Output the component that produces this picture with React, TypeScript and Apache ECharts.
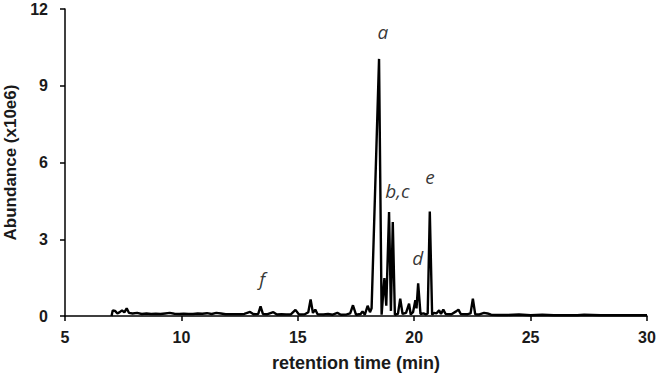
import React, { useEffect, useRef } from "react";
import * as echarts from "echarts";

const retentionTimes = [
  7.0, 7.05, 7.15, 7.25, 7.35, 7.45, 7.55, 7.65, 7.75, 7.9, 8.1, 8.3, 8.5, 8.7, 8.9, 9.1, 9.3, 9.5, 9.7, 9.9,
  10.1, 10.3, 10.5, 10.7, 10.9, 11.1, 11.3, 11.5, 11.7, 11.9, 12.1, 12.3, 12.5, 12.7, 12.95, 13.1, 13.3, 13.4,
  13.5, 13.7, 13.95, 14.1, 14.3, 14.5, 14.7, 14.9, 15.05, 15.3, 15.45, 15.55, 15.65, 15.75, 15.85, 16.1, 16.3,
  16.5, 16.7, 16.85, 17.1, 17.25, 17.37, 17.5, 17.7, 17.78, 17.88, 18.0, 18.1, 18.17, 18.49, 18.6, 18.72, 18.8,
  18.92, 19.0, 19.08, 19.17, 19.3, 19.4, 19.5, 19.65, 19.78, 19.85, 19.95, 20.05, 20.1, 20.17, 20.27, 20.4,
  20.5, 20.58, 20.67, 20.77, 20.85, 20.95, 21.07, 21.15, 21.25, 21.35, 21.6, 21.8, 21.9, 22.0, 22.3, 22.42,
  22.52, 22.62, 22.8, 23.0, 23.15, 23.3, 23.6, 24.0, 24.5, 25.0, 25.5, 26.0, 27.0, 27.3, 28.0, 29.0, 30.0,
];

const abundance = [
  0.0, 0.22, 0.2, 0.1, 0.15, 0.22, 0.14, 0.3, 0.12, 0.1, 0.12, 0.08, 0.1, 0.08, 0.09, 0.08, 0.1, 0.12, 0.09, 0.08,
  0.09, 0.08, 0.08, 0.1, 0.09, 0.11, 0.08, 0.12, 0.1, 0.07, 0.07, 0.07, 0.07, 0.08, 0.16, 0.07, 0.08, 0.38,
  0.08, 0.07, 0.15, 0.06, 0.07, 0.06, 0.06, 0.24, 0.06, 0.07, 0.15, 0.65, 0.12, 0.25, 0.07, 0.06, 0.08,
  0.05, 0.12, 0.05, 0.06, 0.1, 0.42, 0.05, 0.08, 0.18, 0.05, 0.4, 0.15, 0.3, 10.05, 0.05, 1.48, 0.4,
  4.06, 0.2, 3.67, 0.05, 0.08, 0.68, 0.08, 0.12, 0.48, 0.06, 0.15, 0.62, 0.3, 1.28, 0.08, 0.1,
  0.06, 0.1, 4.08, 0.05, 0.12, 0.1, 0.22, 0.08, 0.25, 0.08, 0.07, 0.18, 0.25, 0.08, 0.07, 0.1,
  0.68, 0.07, 0.06, 0.12, 0.1, 0.05, 0.04, 0.04, 0.06, 0.03, 0.05, 0.03, 0.03, 0.05, 0.03, 0.03, 0.03,
];

const peakNames = ["a", "b,c", "d", "e", "f"];
const peakLabelX = [18.65, 19.28, 20.15, 20.68, 13.47];
const peakLabelY = [11.1, 4.9, 2.25, 5.45, 1.45];

const xTicks = [5, 10, 15, 20, 25, 30];
const yTicks = [0, 3, 6, 9, 12];

const FONT = "'Liberation Sans', Arial, sans-serif";
const LABEL_FONT = "'Open Sans', 'Liberation Sans', sans-serif";

export default function App() {
  const ref = useRef<HTMLDivElement>(null);
  useEffect(() => {
    if (!ref.current) return;
    const chart = echarts.init(ref.current, null, { renderer: "svg" });
    chart.setOption({
      animation: false,
      backgroundColor: "#ffffff",
      grid: { left: 65, right: 10, top: 9, bottom: 64, containLabel: false, outerBoundsMode: "none" },
      xAxis: {
        type: "value",
        min: xTicks[0],
        max: xTicks[xTicks.length - 1],
        interval: 5,
        name: "retention time (min)",
        nameLocation: "middle",
        nameGap: 38,
        nameTextStyle: { fontFamily: FONT, fontWeight: "bold", fontSize: 18, color: "#1a1a1a" },
        axisLine: { lineStyle: { color: "#000", width: 1.5 } },
        axisTick: { show: true, inside: false, length: 5, lineStyle: { color: "#000", width: 1.5 } },
        axisLabel: { fontFamily: FONT, fontWeight: "bold", fontSize: 16, color: "#1a1a1a", margin: 13 },
        splitLine: { show: false },
      },
      yAxis: {
        type: "value",
        min: yTicks[0],
        max: yTicks[yTicks.length - 1],
        interval: 3,
        name: "Abundance (x10e6)",
        nameLocation: "middle",
        nameGap: 44,
        nameTextStyle: { fontFamily: FONT, fontWeight: "bold", fontSize: 17, color: "#1a1a1a" },
        axisLine: { show: true, lineStyle: { color: "#000", width: 1.5 } },
        axisTick: { show: true, inside: false, length: 5, lineStyle: { color: "#000", width: 1.5 } },
        axisLabel: { fontFamily: FONT, fontWeight: "bold", fontSize: 16, color: "#1a1a1a", margin: 17 },
        splitLine: { show: false },
      },
      series: [
        {
          type: "line",
          data: retentionTimes.map((t, i) => [t, abundance[i]]),
          showSymbol: false,
          symbol: "none",
          lineStyle: { color: "#000", width: 2.4 },
          z: 3,
        },
        {
          type: "scatter",
          symbolSize: 0,
          data: peakNames.map((n, i) => ({ name: n, value: [peakLabelX[i], peakLabelY[i]] })),
          label: {
            show: true,
            position: "inside",
            formatter: (p: any) => p.name,
            fontFamily: LABEL_FONT,
            fontStyle: "italic",
            fontSize: 19,
            color: "#000",
          },
          z: 4,
        },
      ],
    });
    return () => chart.dispose();
  }, []);
  return <div ref={ref} style={{ width: 657, height: 380, position: "absolute", left: 0, top: 0 }} />;
}
